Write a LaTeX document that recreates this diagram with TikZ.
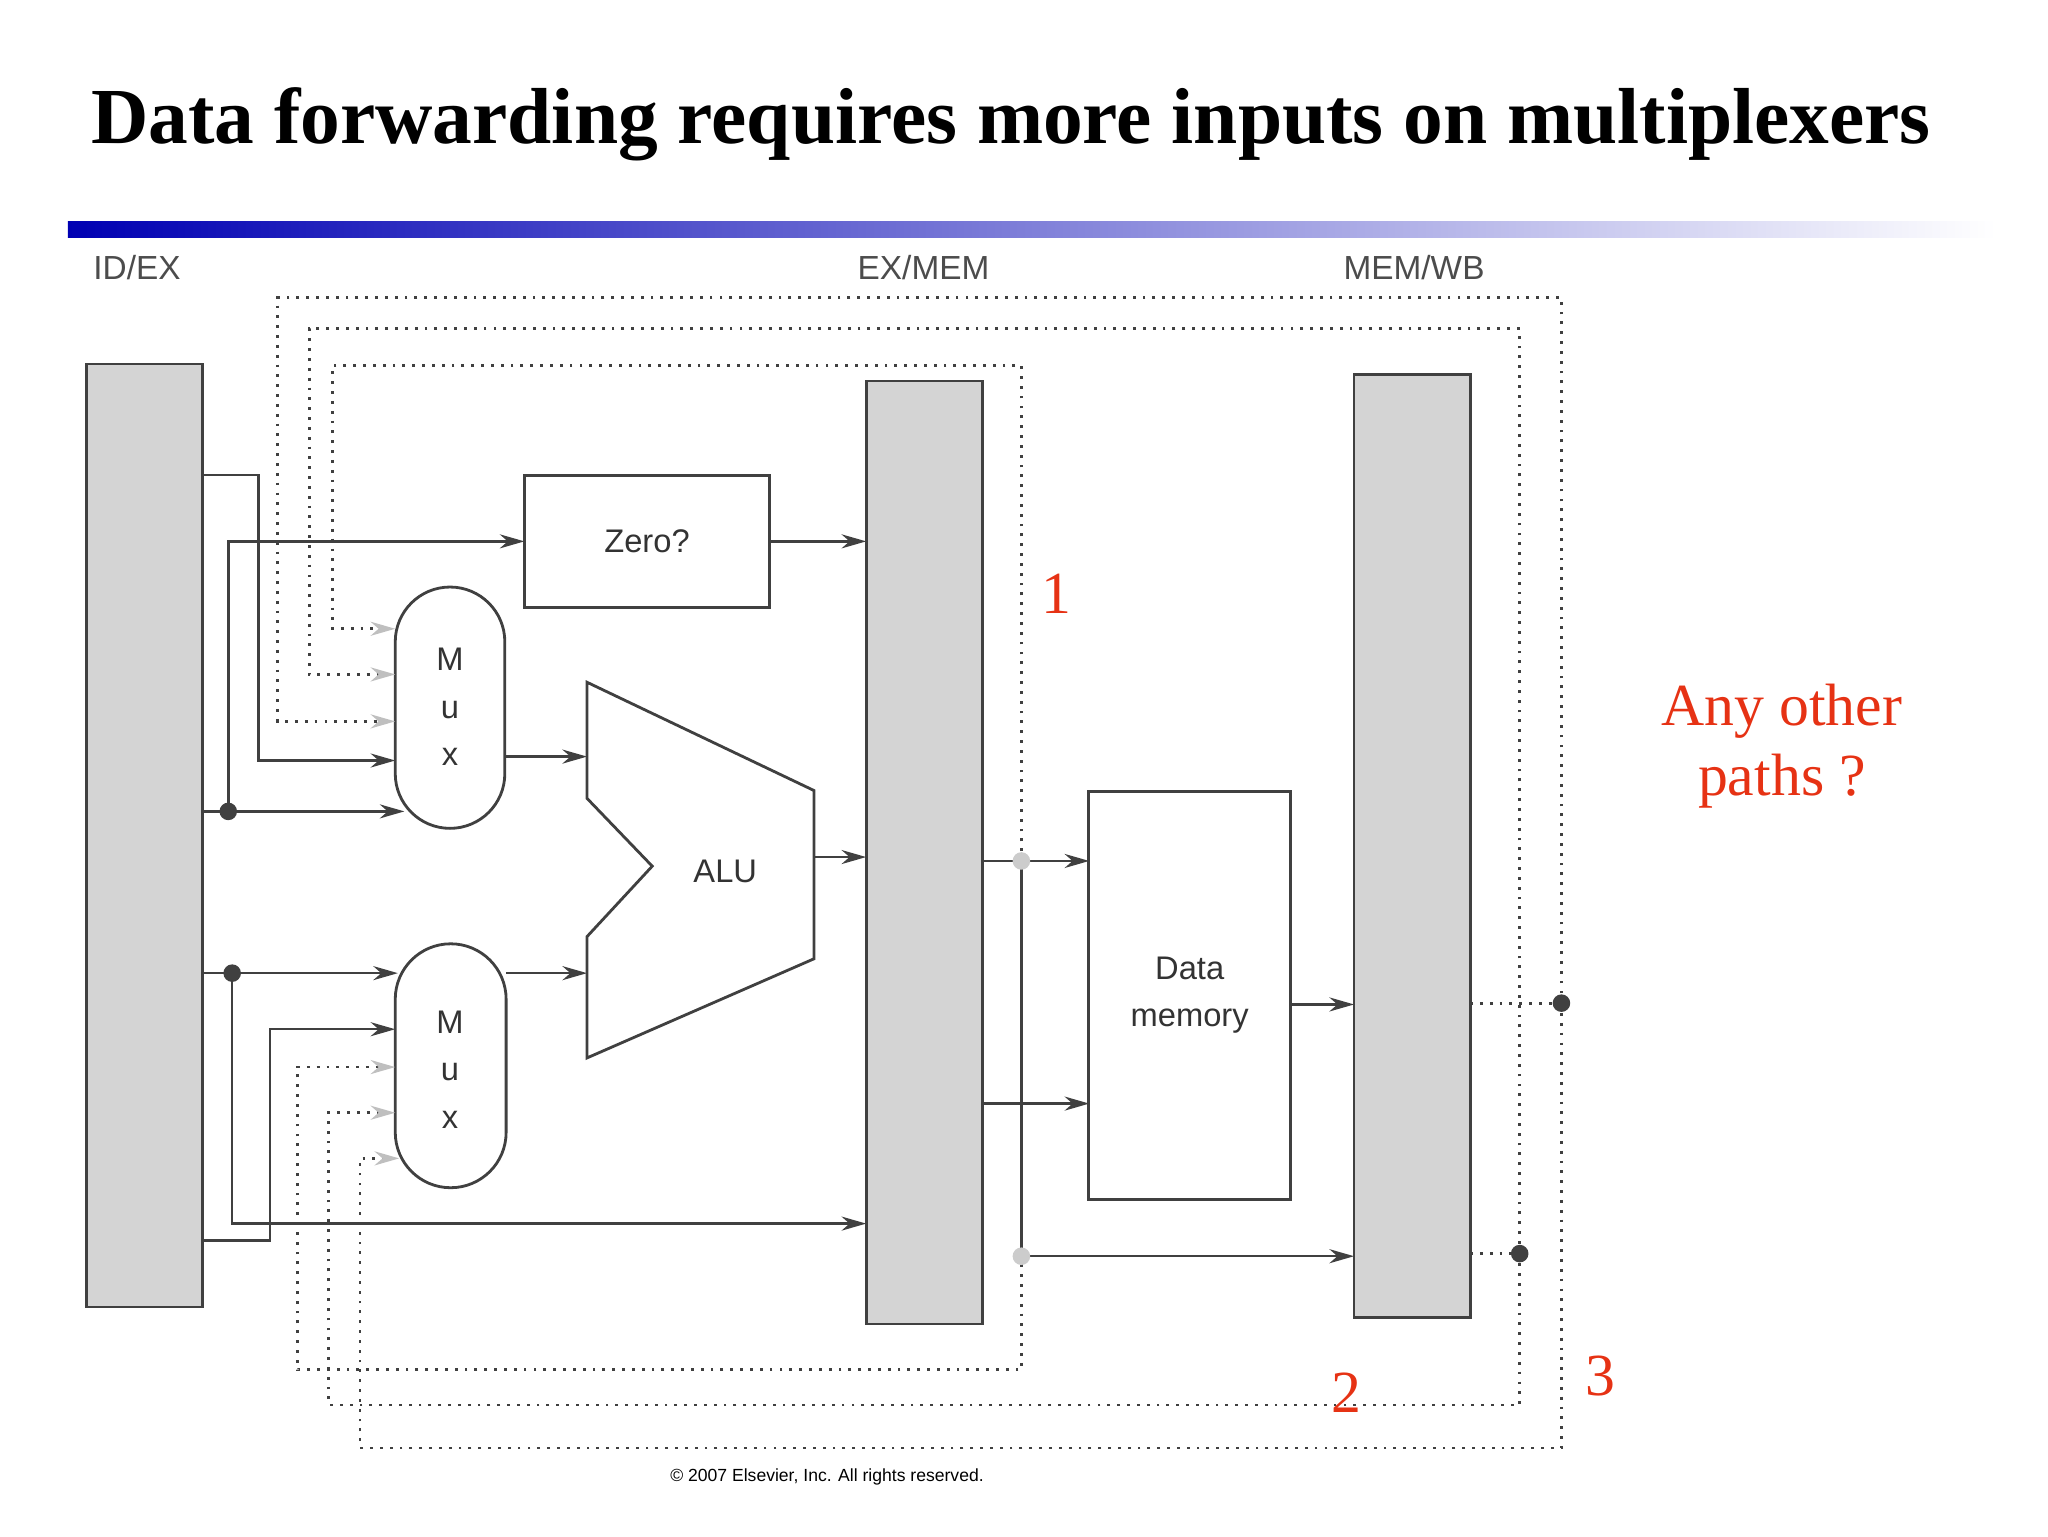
\documentclass[tikz,border=0pt]{standalone}
\usepackage{fontspec}
\setmainfont{Liberation Serif}
\setsansfont{Liberation Sans}
\usetikzlibrary{arrows.meta}
\definecolor{reg}{gray}{0.83}
\definecolor{ln}{gray}{0.25}
\definecolor{redt}{RGB}{230,50,20}
\begin{document}
\begin{tikzpicture}[x=0.013045cm,y=-0.013045cm,
  wire/.style={draw=ln,line width=0.7pt},
  ar/.style={wire,-{Stealth[length=7pt,width=4pt]}},
  dar/.style={draw=ln,line width=0.8pt,dotted,-{Stealth[length=7pt,width=4pt,color=gray!50]}},
  dl/.style={draw=ln,line width=0.8pt,dotted},
  regbox/.style={draw=ln,line width=0.8pt,fill=reg},
  lab/.style={font=\sffamily\fontsize{9.5}{12}\selectfont,text=black!70},
  red/.style={text=redt,font=\fontsize{17}{20}\selectfont},
  inner/.style={font=\sffamily\fontsize{9.3}{13.5}\selectfont,text=black!80},
  jd/.style={circle,fill=ln,inner sep=0pt,minimum size=5pt},
  gd/.style={circle,fill=gray!40,inner sep=0pt,minimum size=5pt}]
\useasboundingbox (0,0) rectangle (1570,1177.5);
\node (title) at (775,95) {\fontsize{22.6}{27}\selectfont\bfseries Data forwarding requires more inputs on multiplexers};
\shade[left color=blue!70!black,right color=white] (52,170) rectangle (1530,182);
\node[lab] (l1) at (105,205) {ID/EX};
\node[lab] (l2) at (708,205) {EX/MEM};
\node[lab] (l3) at (1084,205) {MEM/WB};
% registers
\path[regbox] (66,279) rectangle (155,1002);
\path[regbox] (664,292) rectangle (753,1015);
\path[regbox] (1038,287) rectangle (1127,1010);
% zero
\node[inner,draw=ln,line width=0.8pt,minimum width=188*0.013045cm,minimum height=101*0.013045cm] (zero) at (496,415) {Zero?};
% muxes
\path[draw=ln,line width=0.8pt] (303,492) arc(180:360:42) -- (387,593) arc(0:180:42) -- cycle;
\node[inner,align=center] (m1) at (345,542) {M\\u\\x};
\path[draw=ln,line width=0.8pt] (303,766) arc(180:360:42.5) -- (388,868) arc(0:180:42.5) -- cycle;
\node[inner,align=center] (m2) at (345,820) {M\\u\\x};
% ALU
\path[draw=ln,line width=0.8pt] (450,523) -- (624,606) -- (624,735) -- (450,811) -- (450,718) -- (500,664) -- (450,612) -- cycle;
\node[inner] (alu) at (556,668) {ALU};
% data memory
\node[inner,draw=ln,line width=0.8pt,minimum width=155*0.013045cm,minimum height=313*0.013045cm,align=center] (dm) at (912,763) {Data\\memory};
% solid wires
\draw[ar] (155,364) -- (198,364) -- (198,583) -- (303,583);
\draw[ar] (155,622) -- (310,622);
\draw[ar] (175,622) -- (175,415) -- (402,415);
\node[jd] (j1) at (175,622) {};
\draw[ar] (590,415) -- (664,415);
\draw[ar] (387,580) -- (450,580);
\draw[ar] (155,746) -- (305,746);
\node[jd] (j2) at (178,746) {};
\draw[ar] (178,746) -- (178,938) -- (664,938);
\draw[ar] (155,951) -- (207,951) -- (207,789) -- (303,789);
\draw[ar] (388,746) -- (450,746);
\draw[ar] (624,657) -- (664,657);
\draw[ar] (753,660) -- (835,660);
\draw[ar] (753,846) -- (835,846);
\draw[wire] (783,660) -- (783,963);
\draw[ar] (783,963) -- (1038,963);
\draw[ar] (990,770) -- (1038,770);
% dotted forwarding
\draw[dar] (783,660) -- (783,280) -- (255,280) -- (255,482) -- (303,482);
\draw[dar] (1165,961) -- (1165,252) -- (237,252) -- (237,517) -- (303,517);
\draw[dar] (1197,769) -- (1197,228) -- (213,228) -- (213,553) -- (303,553);
\draw[dar] (783,660) -- (783,1050) -- (228,1050) -- (228,818) -- (303,818);
\draw[dar] (1165,961) -- (1165,1077) -- (252,1077) -- (252,853) -- (303,853);
\draw[dar] (1197,769) -- (1197,1110) -- (276,1110) -- (276,888) -- (306,888);
\draw[dl] (1127,769) -- (1197,769);
\draw[dl] (1127,961) -- (1165,961);
\node[gd] (g1) at (783,660) {};
\node[gd] (g2) at (783,963) {};
\node[jd] (j3) at (1197,769) {};
\node[jd] (j4) at (1165,961) {};
% red labels
\node[red] (r1) at (810,455) {1};
\node[red] (r2) at (1032,1068) {2};
\node[red] (r3) at (1227,1055) {3};
\node[red,align=center] (q) at (1366,572) {Any other\\paths ?};
\node[font=\sffamily\fontsize{5}{6}\selectfont] (c) at (634,1132) {\textcopyright\ 2007 Elsevier, Inc. All rights reserved.};
\end{tikzpicture}
\end{document}
